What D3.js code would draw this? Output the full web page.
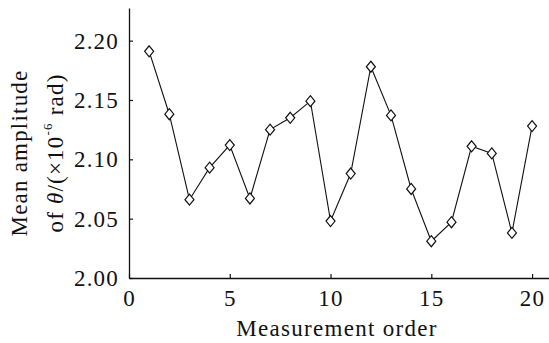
<!DOCTYPE html>
<html>
<head>
<meta charset="utf-8">
<script src="https://cdn.jsdelivr.net/npm/d3@7"></script>
<style>
  body { margin: 0; background: #fff; }
  svg text { font-family: "Liberation Serif", "Times New Roman", Times, serif !important; fill: #111; }
</style>
</head>
<body>
<svg id="chart" width="549" height="343"></svg>
<script>
// measurement order and mean amplitude values
const order = d3.range(1, 21);
const amplitude = [2.191, 2.138, 2.066, 2.093, 2.112, 2.067, 2.125, 2.135, 2.149, 2.048,
                   2.088, 2.178, 2.137, 2.075, 2.031, 2.047, 2.111, 2.105, 2.038, 2.128];
const xTicks = [0, 5, 10, 15, 20];
const yTicks = [2.00, 2.05, 2.10, 2.15, 2.20];

const margin = { top: 8, right: 0, bottom: 65, left: 129 };
const width = 549 - margin.left - margin.right;
const height = 343 - margin.top - margin.bottom;

const svg = d3.select('#chart');
const g = svg.append('g').attr('transform', 'translate(' + margin.left + ',' + margin.top + ')');

const x = d3.scaleLinear().domain([0, 20.84]).range([0, width]);
const y = d3.scaleLinear().domain([2.00, 2.2275]).range([height, 0]);

// axes with inward ticks
const xAxis = g.append('g').attr('transform', 'translate(0,' + height + ')')
  .call(d3.axisBottom(x).tickValues(xTicks).tickSize(-4).tickSizeOuter(0).tickPadding(11));
const yAxis = g.append('g')
  .call(d3.axisLeft(y).tickValues(yTicks).tickSize(-4).tickSizeOuter(0).tickPadding(10)
    .tickFormat(d3.format('.2f')));

[xAxis, yAxis].forEach(a => {
  a.select('.domain').attr('stroke', '#111').attr('stroke-width', 1.3);
  a.selectAll('.tick line').attr('stroke', '#111').attr('stroke-width', 1.2);
  a.selectAll('.tick text').attr('font-size', 23).attr('letter-spacing', 1.2).attr('fill', '#111');
});
xAxis.selectAll('.tick text').attr('dy', '0.75em');

const pts = order.map((o, i) => ({ o: o, v: amplitude[i] }));

g.append('path').datum(pts)
  .attr('fill', 'none').attr('stroke', '#111').attr('stroke-width', 1.1)
  .attr('d', d3.line().x(d => x(d.o)).y(d => y(d.v)));

g.selectAll('.pt').data(pts).enter().append('path')
  .attr('class', 'pt')
  .attr('transform', d => 'translate(' + x(d.o) + ',' + y(d.v) + ')')
  .attr('d', 'M0,-5.5L4.5,0L0,5.5L-4.5,0Z')
  .attr('fill', '#fff').attr('stroke', '#111').attr('stroke-width', 1.2);

// axis titles
svg.append('text')
  .attr('x', 337).attr('y', 336)
  .attr('text-anchor', 'middle').attr('font-size', 23).attr('letter-spacing', 1.3)
  .text('Measurement order');

const yl = svg.append('g').attr('transform', 'translate(0,153) rotate(-90)');
yl.append('text')
  .attr('x', 0).attr('y', 27)
  .attr('text-anchor', 'middle').attr('font-size', 23).attr('letter-spacing', 1.2)
  .text('Mean amplitude');
const l2 = yl.append('text')
  .attr('x', 0).attr('y', 63)
  .attr('text-anchor', 'middle').attr('font-size', 23).attr('letter-spacing', 1.2);
l2.append('tspan').text('of ');
l2.append('tspan').attr('font-style', 'italic').text('θ');
l2.append('tspan').text('/(×10');
l2.append('tspan').attr('font-size', 13).attr('dy', -11).text('-6');
l2.append('tspan').attr('dy', 11).text(' rad)');
</script>
</body>
</html>
